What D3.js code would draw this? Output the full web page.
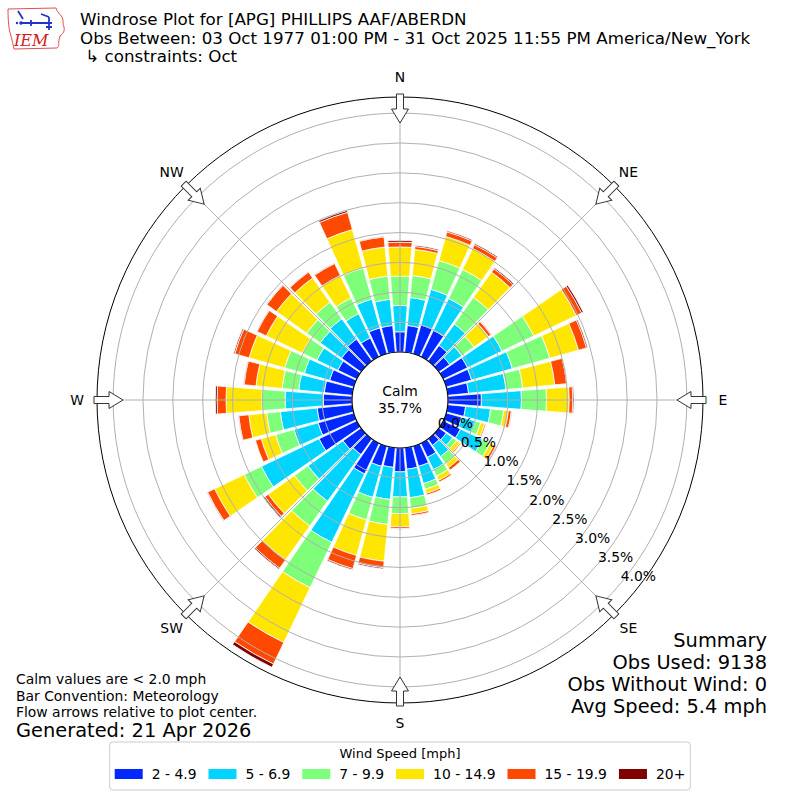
<!DOCTYPE html>
<html>
<head>
<meta charset="utf-8">
<script src="https://cdn.jsdelivr.net/npm/d3@7"></script>
<style>
  body { margin: 0; background: #fff; }
  text { font-family: "DejaVu Sans", sans-serif; }
</style>
</head>
<body>
<div id="chart"></div>
<script>
// direction bins (degrees, meteorological)
const directions = d3.range(0, 360, 10);
const speedBins = ["2 - 4.9", "5 - 6.9", "7 - 9.9", "10 - 14.9", "15 - 19.9", "20+"];
const binColors = ["#0028ff", "#00d4ff", "#7dff7a", "#ffe600", "#ff4800", "#800000"];

// percent of observations per direction, one array per speed bin
const spd2to5 = [.34,.45,.50,.49,.32,.22,.45,.44,.35,.56,.30,.27,.32,.15,.13,.26,.35,.36,
                 .40,.33,.35,.57,.32,.37,.70,.62,.59,.48,.47,.42,.35,.40,.45,.35,.45,.45];
const spd5to7 = [.44,.47,.62,.59,.44,.25,.64,.71,.63,.67,.42,.23,.41,.13,.23,.23,.30,.48,
                 .42,.54,.54,1.27,.96,.72,1.07,.42,.62,.64,.43,.44,.39,.44,.42,.45,.50,.44];
const spd7to10 = [.49,.37,.50,.54,.55,.25,.59,.65,.28,.42,.22,.10,.14,.08,.15,.12,.10,.18,
                  .28,.42,.39,.84,.51,.28,.32,.32,.23,.39,.28,.34,.27,.28,.34,.29,.54,.39];
const spd10to15 = [.49,.44,.42,.39,.52,.30,.79,.50,.54,.38,.08,.07,.07,.07,.08,.08,.07,.09,
                   .22,.62,.62,1.02,.70,.54,.55,.25,.30,.60,.44,.62,.67,.62,.50,.42,.67,.49];
const spd15to20 = [.08,.05,.08,.07,.07,.05,.10,.14,.20,.06,.05,.02,.04,.02,.05,.03,.03,.03,
                   .03,.11,.23,.40,.17,.07,.13,.10,.17,.15,.20,.25,.17,.20,.12,.22,.30,.17];
const spd20up = [.03,.02,.02,.02,.02,.01,.03,.02,.01,.02,.01,0,.01,0,0,0,0,0,
                 .01,.02,.02,.06,.02,.03,.01,0,.01,.03,.01,.02,.01,.01,.01,.01,.03,.01];

const calmPct = 35.7;
const ringTicks = [0, 0.5, 1.0, 1.5, 2.0, 2.5, 3.0, 3.5, 4.0];
const compass = [["N", 0], ["NE", 45], ["E", 90], ["SE", 135], ["S", 180], ["SW", 225], ["W", 270], ["NW", 315]];

const titleLines = [
  "Windrose Plot for [APG] PHILLIPS AAF/ABERDN",
  "Obs Between: 03 Oct 1977 01:00 PM - 31 Oct 2025 11:55 PM America/New_York",
  " \u21b3 constraints: Oct"
];
const noteLines = ["Calm values are < 2.0 mph", "Bar Convention: Meteorology", "Flow arrows relative to plot center."];
const generated = "Generated: 21 Apr 2026";
const summaryLines = ["Summary", "Obs Used: 9138", "Obs Without Wind: 0", "Avg Speed: 5.4 mph"];

// ---------------------------------------------------------------
const series = [spd2to5, spd5to7, spd7to10, spd10to15, spd15to20, spd20up];
const keys = speedBins;
const rows = directions.map((dir, i) => {
  const row = { dir: dir };
  keys.forEach((k, j) => { row[k] = series[j][i]; });
  return row;
});

const width = 800, height = 800;
const cx = 400, cy = 400;
const rad = d => d * Math.PI / 180;

const svg = d3.select("#chart").append("svg")
  .attr("width", width)
  .attr("height", height)
  .style("background", "#fff");

const g = svg.append("g").attr("transform", `translate(${cx},${cy})`);

const r = d3.scaleLinear().domain([0, 4.27]).range([48, 303]);
const color = d3.scaleOrdinal().domain(keys).range(binColors);

const stacked = d3.stack().keys(keys)(rows);
const halfW = 4.4;

const arc = d3.arc()
  .innerRadius(d => r(d[0]))
  .outerRadius(d => r(d[1]))
  .startAngle(d => rad(d.data.dir - halfW))
  .endAngle(d => rad(d.data.dir + halfW));

g.selectAll("g.layer")
  .data(stacked)
  .enter().append("g")
    .attr("class", "layer")
    .attr("fill", d => color(d.key))
  .selectAll("path")
  .data(d => d.filter(s => s[1] - s[0] > 0))
  .enter().append("path")
    .attr("d", arc)
    .attr("stroke", "#fff")
    .attr("stroke-width", 0.8);

// grid rings and radial lines (drawn above bars)
g.selectAll("circle.ring")
  .data(ringTicks.filter(t => t > 0))
  .enter().append("circle")
    .attr("class", "ring")
    .attr("r", d => r(d))
    .attr("fill", "none")
    .attr("stroke", "#b0b0b0")
    .attr("stroke-width", 1);

g.selectAll("line.spoke")
  .data(compass)
  .enter().append("line")
    .attr("class", "spoke")
    .attr("x1", d => Math.sin(rad(d[1])) * r(0))
    .attr("y1", d => -Math.cos(rad(d[1])) * r(0))
    .attr("x2", d => Math.sin(rad(d[1])) * r.range()[1])
    .attr("y2", d => -Math.cos(rad(d[1])) * r.range()[1])
    .attr("stroke", "#b0b0b0")
    .attr("stroke-width", 1);

// outer frame + calm hole
g.append("circle")
  .attr("r", r.range()[1])
  .attr("fill", "none")
  .attr("stroke", "#000")
  .attr("stroke-width", 1);

g.append("circle")
  .attr("r", r(0))
  .attr("fill", "#fff")
  .attr("stroke", "#000")
  .attr("stroke-width", 1.2);

g.append("text")
  .attr("text-anchor", "middle")
  .attr("y", -4)
  .style("font-size", "13.9px")
  .text("Calm");
g.append("text")
  .attr("text-anchor", "middle")
  .attr("y", 13)
  .style("font-size", "13.9px")
  .text(d3.format(".1f")(calmPct) + "%");

// ring labels along bearing 130
const labAng = rad(130);
g.selectAll("text.rlab")
  .data(ringTicks)
  .enter().append("text")
    .attr("class", "rlab")
    .attr("x", d => Math.sin(labAng) * r(d) + 1)
    .attr("y", d => -Math.cos(labAng) * r(d) - 3)
    .style("font-size", "13.9px")
    .text(d => d3.format(".1f")(d) + "%");

// flow arrows pointing to the centre
const arrowPts = [[-3.5, -306], [3.5, -306], [3.5, -291], [8.5, -291], [0, -277], [-8.5, -291], [-3.5, -291]];
g.selectAll("polygon.arrow")
  .data(compass)
  .enter().append("polygon")
    .attr("class", "arrow")
    .attr("points", arrowPts.map(p => p.join(",")).join(" "))
    .attr("transform", d => `rotate(${d[1]})`)
    .attr("fill", "#fff")
    .attr("stroke", "#333")
    .attr("stroke-width", 1);

g.selectAll("text.compass")
  .data(compass)
  .enter().append("text")
    .attr("class", "compass")
    .attr("x", d => Math.sin(rad(d[1])) * 323)
    .attr("y", d => -Math.cos(rad(d[1])) * 323)
    .attr("dy", "0.36em")
    .attr("text-anchor", "middle")
    .style("font-size", "13.9px")
    .text(d => d[0]);

// titles
svg.selectAll("text.title")
  .data(titleLines)
  .enter().append("text")
    .attr("class", "title")
    .attr("x", 80)
    .attr("y", (d, i) => 25 + i * 18.5)
    .style("font-size", "16.7px")
    .style("white-space", "pre")
    .attr("xml:space", "preserve")
    .text(d => d);

// IEM logo (rough)
const logo = svg.append("g");
logo.append("path")
  .attr("d", "M8,9 L56,8 C57,12 60,14 62,17 C64,20 62,24 64,27 C65,31 63,34 60,36 L59,40 C58,43 60,46 57,48 L14,49 C13,44 12,40 11,36 C9,30 8,22 8,9 Z")
  .attr("fill", "none")
  .attr("stroke", "#e05050")
  .attr("stroke-width", 1);
logo.append("path")
  .attr("d", "M18,11 L23,19 M22,23 L52,23 M31,20 L31,26 M41,14 L49,17 M49,17 L49,30 M46,27 L52,27")
  .attr("fill", "none")
  .attr("stroke", "#2233cc")
  .attr("stroke-width", 1.8);
logo.append("circle").attr("cx", 21).attr("cy", 23).attr("r", 1.8).attr("fill", "#2233cc");
logo.append("circle").attr("cx", 17).attr("cy", 23).attr("r", 1.2).attr("fill", "#2233cc");
logo.append("text")
  .attr("x", 14)
  .attr("y", 46)
  .style("font-family", "'DejaVu Serif', serif")
  .style("font-style", "italic")
  .style("font-size", "16px")
  .attr("fill", "#d02020")
  .text("IEM");

// notes bottom-left
svg.selectAll("text.note")
  .data(noteLines)
  .enter().append("text")
    .attr("class", "note")
    .attr("x", 16)
    .attr("y", (d, i) => 684 + i * 16.6)
    .style("font-size", "13.9px")
    .text(d => d);
svg.append("text")
  .attr("x", 16)
  .attr("y", 737)
  .style("font-size", "19.4px")
  .text(generated);

// summary bottom-right
svg.selectAll("text.summary")
  .data(summaryLines)
  .enter().append("text")
    .attr("class", "summary")
    .attr("x", 767)
    .attr("y", (d, i) => 647 + i * 22)
    .attr("text-anchor", "end")
    .style("font-size", "19.4px")
    .text(d => d);

// legend
const leg = svg.append("g");
const legBox = leg.append("rect")
  .attr("y", 742)
  .attr("height", 48)
  .attr("rx", 3)
  .attr("fill", "#fff")
  .attr("stroke", "#cccccc")
  .attr("stroke-width", 1);

leg.append("text")
  .attr("x", 400)
  .attr("y", 758)
  .attr("text-anchor", "middle")
  .style("font-size", "13px")
  .text("Wind Speed [mph]");

const items = leg.selectAll("g.item")
  .data(keys)
  .enter().append("g")
    .attr("class", "item");
items.append("rect")
  .attr("width", 28)
  .attr("height", 10)
  .attr("y", 769)
  .attr("fill", d => color(d));
items.append("text")
  .attr("x", 37)
  .attr("y", 779)
  .style("font-size", "13.9px")
  .text(d => d);

let xpos = 0;
const offsets = [];
items.each(function () {
  offsets.push(xpos);
  const w = d3.select(this).select("text").node().getComputedTextLength();
  xpos += 37 + w + 12;
});
const totalW = xpos - 12;
const x0 = 400 - totalW / 2;
items.attr("transform", (d, i) => `translate(${x0 + offsets[i]},0)`);
legBox.attr("x", x0 - 5).attr("width", totalW + 10);
</script>
</body>
</html>
